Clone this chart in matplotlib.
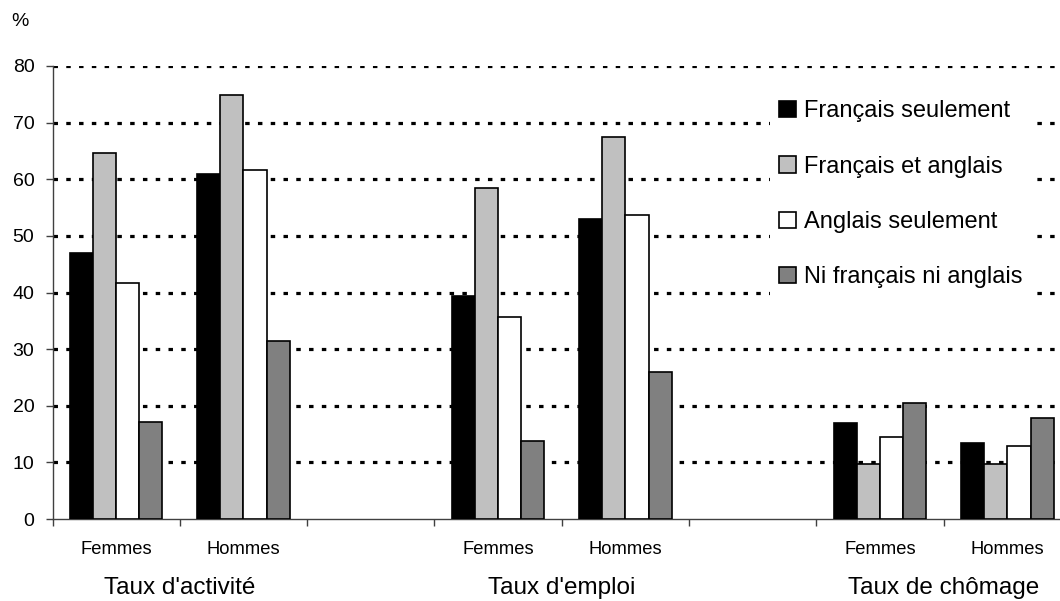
import numpy as np
import matplotlib
matplotlib.use("Agg")
import matplotlib.pyplot as plt
from matplotlib.transforms import blended_transform_factory

plt.rcParams['font.family'] = ['Liberation Sans', 'DejaVu Sans']

nan = np.nan
categories = ["Femmes", "Hommes", "", "Femmes", "Hommes", "", "Femmes", "Hommes"]
groups = ["Taux d'activité", "Taux d'emploi", "Taux de chômage"]
group_pos = [0.5, 3.5, 6.5]
series_names = ["Français seulement", "Français et anglais", "Anglais seulement", "Ni français ni anglais"]
fr_only = [47.0, 61.0, nan, 39.3, 52.9, nan, 16.9, 13.4]
fr_en = [64.7, 74.9, nan, 58.5, 67.5, nan, 9.8, 9.8]
en_only = [41.6, 61.6, nan, 35.7, 53.6, nan, 14.4, 12.9]
neither = [17.2, 31.5, nan, 13.7, 25.9, nan, 20.4, 17.8]
series = [fr_only, fr_en, en_only, neither]
colors = ["#000000", "#C0C0C0", "#FFFFFF", "#808080"]
yticks = [0, 10, 20, 30, 40, 50, 60, 70, 80]

W, H = 1060, 601
fig = plt.figure(figsize=(W / 100, H / 100), dpi=100)
ax = fig.add_axes([52.5 / W, (H - 519) / H, (1071 - 52.5) / W, (519 - 66) / H])

x = np.arange(len(categories))
bw = 0.182
for i, (vals, c, name) in enumerate(zip(series, colors, series_names)):
    ax.bar(x + (i - 1.5) * bw, vals, width=bw, color=c, edgecolor="black",
           linewidth=1.2, label=name, zorder=3)

ax.set_xlim(-0.5, len(categories) - 0.5)
ax.set_ylim(0, 80)
ax.set_yticks(yticks)
ax.set_yticklabels([str(v) for v in yticks], fontsize=14)
for v in yticks[1:]:
    ax.axhline(v, color="black", linewidth=2.3, linestyle=(0, (1.4, 2.6)),
               dash_capstyle="butt", zorder=1)

ax.set_xticks(np.arange(len(categories) + 1) - 0.5)
ax.set_xticklabels([])
ax.tick_params(axis="x", direction="out", length=5, width=1, color="#404040")
ax.tick_params(axis="y", direction="out", length=5, width=1, color="#404040", pad=8)
for s in ["top", "right"]:
    ax.spines[s].set_visible(False)
for s in ["left", "bottom"]:
    ax.spines[s].set_color("#404040")
    ax.spines[s].set_linewidth(1)

trans = blended_transform_factory(ax.transData, fig.transFigure)
for xi, lab in zip(x, categories):
    if lab:
        ax.text(xi, (H - 549) / H, lab, transform=trans, ha="center", va="center", fontsize=13.2)
for gp, g in zip(group_pos, groups):
    ax.text(gp, (H - 588) / H, g, transform=trans, ha="center", va="center", fontsize=17.5)

fig.text(20 / W, (H - 22) / H, "%", ha="center", va="center", fontsize=14)

leg = ax.legend(loc="upper left", bbox_to_anchor=(770 / W, (H - 91) / H),
                bbox_transform=fig.transFigure, frameon=True, fancybox=False,
                framealpha=1, edgecolor="none", facecolor="white", fontsize=17,
                handlelength=0.68, handleheight=0.68, handletextpad=0.35,
                labelspacing=1.41, borderpad=0.4, borderaxespad=0)
leg.set_zorder(5)

fig.savefig("out.png", dpi=100)
